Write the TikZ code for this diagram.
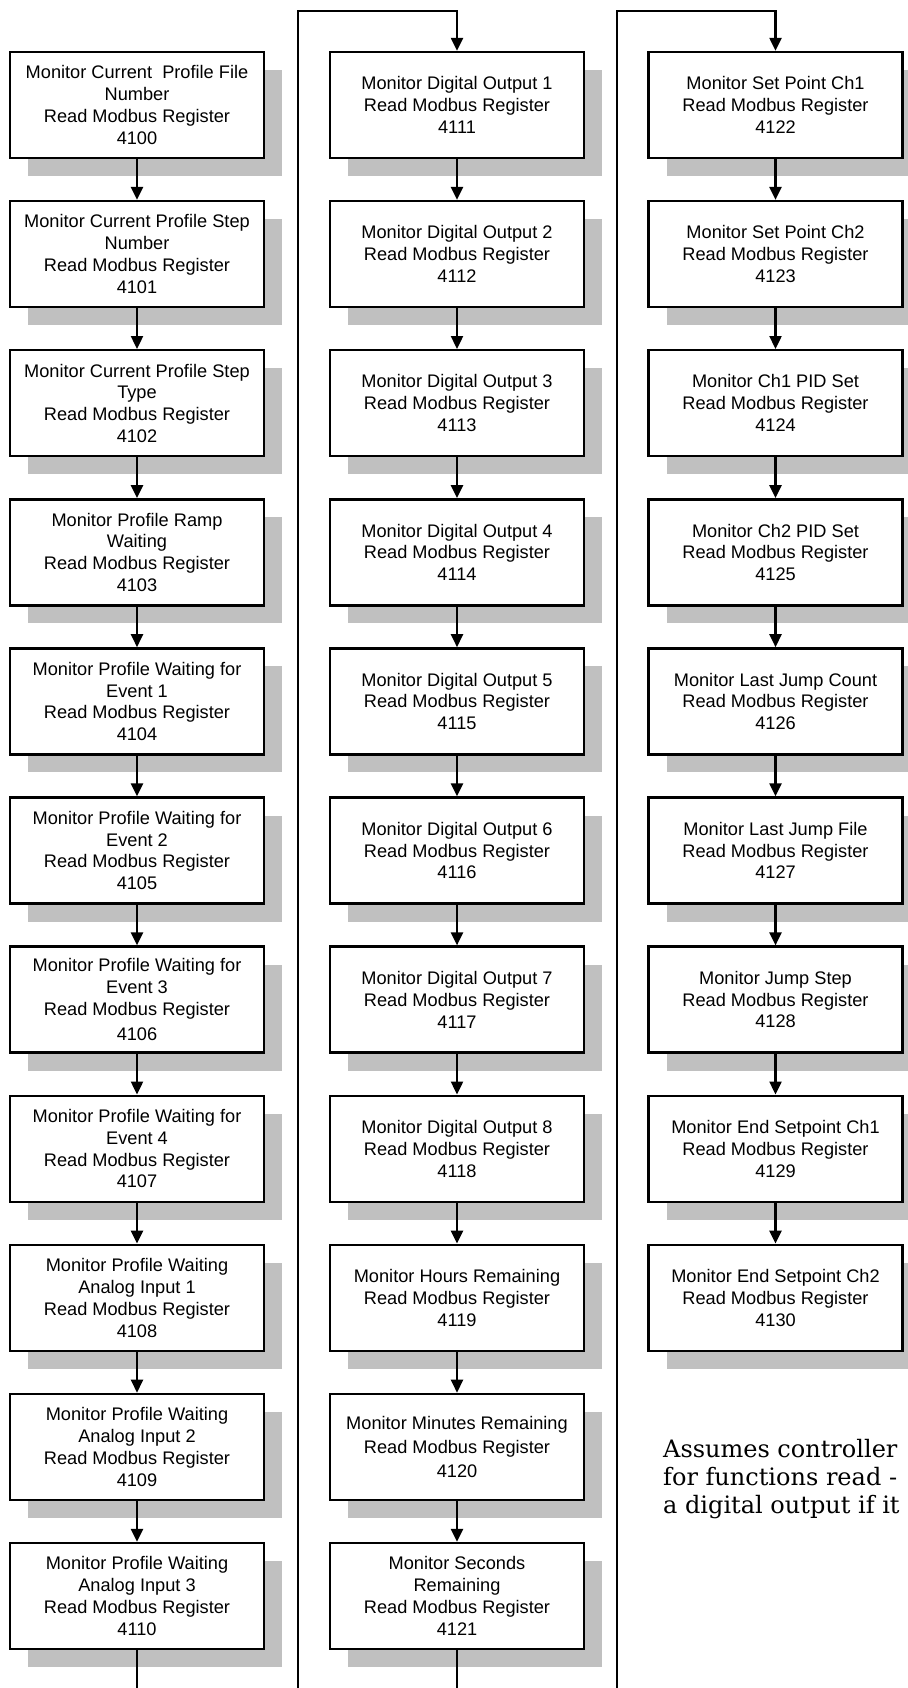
\documentclass[tikz,border=0pt]{standalone}
\usepackage{fontspec}
\setmainfont{Liberation Sans}
\newfontfamily\noteserif{DejaVu Serif}
\usetikzlibrary{arrows.meta,shadows}
\definecolor{shadowgray}{RGB}{192,192,192}
\begin{document}
\begin{tikzpicture}[x=1pt,y=-1pt,
  box/.style={draw, line width=2.4pt, fill=white, minimum width=254pt,
    minimum height=106pt, inner sep=0pt, align=center,
    font=\fontsize{18.2}{21.8}\selectfont,
    drop shadow={shadow xshift=18pt, shadow yshift=-18pt, opacity=1, fill=shadowgray}},
  conn/.style={line width=2.4pt},
  arr/.style={conn, -{Triangle[length=13pt,width=12pt]}},
  note/.style={anchor=base west, align=left, inner sep=0pt,
    font=\noteserif\fontsize{24}{28}\selectfont}]
\useasboundingbox[fill=white] (0,0) rectangle (907,1688);

% column 1
\node[box] (n4100) at (137,105)    {Monitor Current\ \ Profile File\\Number\\Read Modbus Register\\4100};
\node[box] (n4101) at (137,254.1)  {Monitor Current Profile Step\\Number\\Read Modbus Register\\4101};
\node[box] (n4102) at (137,403.2)  {Monitor Current Profile Step\\Type\\Read Modbus Register\\4102};
\node[box] (n4103) at (137,552.3)  {Monitor Profile Ramp\\Waiting\\Read Modbus Register\\4103};
\node[box] (n4104) at (137,701.4)  {Monitor Profile Waiting for\\Event 1\\Read Modbus Register\\4104};
\node[box] (n4105) at (137,850.5)  {Monitor Profile Waiting for\\Event 2\\Read Modbus Register\\4105};
\node[box] (n4106) at (137,999.6)  {Monitor Profile Waiting for\\Event 3\\Read Modbus Register\\[3pt]4106};
\node[box] (n4107) at (137,1148.7) {Monitor Profile Waiting for\\Event 4\\Read Modbus Register\\4107};
\node[box] (n4108) at (137,1297.8) {Monitor Profile Waiting\\Analog Input 1\\Read Modbus Register\\4108};
\node[box] (n4109) at (137,1446.9) {Monitor Profile Waiting\\Analog Input 2\\Read Modbus Register\\4109};
\node[box] (n4110) at (137,1596)   {Monitor Profile Waiting\\Analog Input 3\\Read Modbus Register\\4110};

% column 2
\node[box] (n4111) at (457,105)    {Monitor Digital Output 1\\Read Modbus Register\\4111};
\node[box] (n4112) at (457,254.1)  {Monitor Digital Output 2\\Read Modbus Register\\4112};
\node[box] (n4113) at (457,403.2)  {Monitor Digital Output 3\\Read Modbus Register\\4113};
\node[box] (n4114) at (457,552.3)  {Monitor Digital Output 4\\Read Modbus Register\\4114};
\node[box] (n4115) at (457,701.4)  {Monitor Digital Output 5\\Read Modbus Register\\4115};
\node[box] (n4116) at (457,850.5)  {Monitor Digital Output 6\\Read Modbus Register\\4116};
\node[box] (n4117) at (457,999.6)  {Monitor Digital Output 7\\Read Modbus Register\\4117};
\node[box] (n4118) at (457,1148.7) {Monitor Digital Output 8\\Read Modbus Register\\4118};
\node[box] (n4119) at (457,1297.8) {Monitor Hours Remaining\\Read Modbus Register\\4119};
\node[box] (n4120) at (457,1446.9) {Monitor Minutes Remaining\\[2pt]Read Modbus Register\\[2pt]4120};
\node[box] (n4121) at (457,1596)   {Monitor Seconds\\Remaining\\Read Modbus Register\\4121};

% column 3
\node[box] (n4122) at (775.5,105)    {Monitor Set Point Ch1\\Read Modbus Register\\4122};
\node[box] (n4123) at (775.5,254.1)  {Monitor Set Point Ch2\\Read Modbus Register\\4123};
\node[box] (n4124) at (775.5,403.2)  {Monitor Ch1 PID Set\\Read Modbus Register\\4124};
\node[box] (n4125) at (775.5,552.3)  {Monitor Ch2 PID Set\\Read Modbus Register\\4125};
\node[box] (n4126) at (775.5,701.4)  {Monitor Last Jump Count\\Read Modbus Register\\4126};
\node[box] (n4127) at (775.5,850.5)  {Monitor Last Jump File\\Read Modbus Register\\4127};
\node[box] (n4128) at (775.5,999.6)  {Monitor Jump Step\\Read Modbus Register\\4128};
\node[box] (n4129) at (775.5,1148.7) {Monitor End Setpoint Ch1\\Read Modbus Register\\4129};
\node[box] (n4130) at (775.5,1297.8) {Monitor End Setpoint Ch2\\Read Modbus Register\\4130};

% connectors within columns
\foreach \a/\b in {4100/4101,4101/4102,4102/4103,4103/4104,4104/4105,4105/4106,
  4106/4107,4107/4108,4108/4109,4109/4110,
  4111/4112,4112/4113,4113/4114,4114/4115,4115/4116,4116/4117,4117/4118,
  4118/4119,4119/4120,4120/4121,
  4122/4123,4123/4124,4124/4125,4125/4126,4126/4127,4127/4128,4128/4129,4129/4130}
  \draw[arr] (n\a.south) -- (n\b.north);

% lines leaving the page at the bottom
\coordinate (c1end) at (137,1690);
\coordinate (c2end) at (457,1690);
\draw[conn] (n4110.south) -- (c1end);
\draw[conn] (n4121.south) -- (c2end);

% lines returning to the top of the next column
\coordinate (v1b) at (298,1690);
\coordinate (v1t) at (298,11);
\coordinate (v2b) at (617,1690);
\coordinate (v2t) at (617,11);
\draw[arr] (v1b) -- (v1t) -| (n4111.north);
\draw[arr] (v2b) -- (v2t) -| (n4122.north);

% note (base anchor = baseline of last line)
\node[note] (note) at (663,1513) {Assumes controller\\for functions read -\\a digital output if it};
\end{tikzpicture}
\end{document}
